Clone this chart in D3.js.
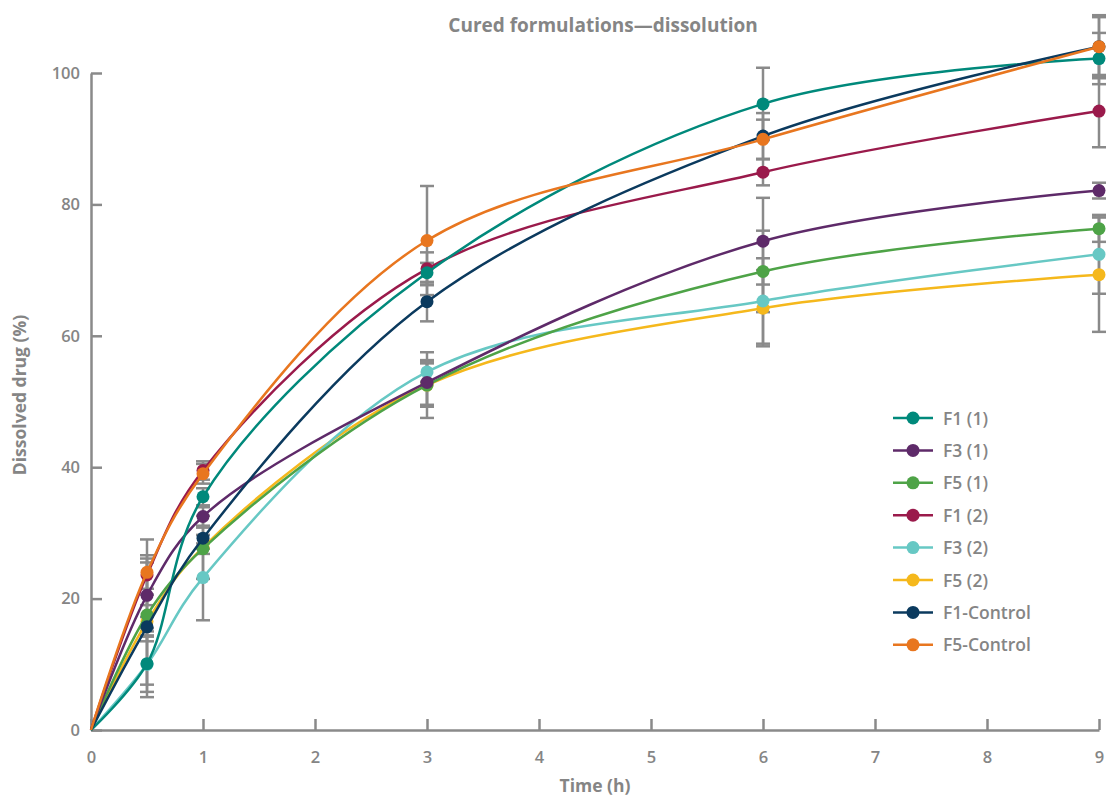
<!DOCTYPE html>
<html>
<head>
<meta charset="utf-8">
<script src="https://cdn.jsdelivr.net/npm/d3@7"></script>
<style>
  body { margin: 0; background: #fff; }
  text { font-family: "Open Sans", sans-serif; fill: #858585; }
</style>
</head>
<body>
<svg id="chart" width="1106" height="799"></svg>
<script>
// time points (h)
const times = [0, 0.5, 1, 3, 6, 9];

const seriesNames = ['F1 (1)', 'F3 (1)', 'F5 (1)', 'F1 (2)', 'F3 (2)', 'F5 (2)', 'F1-Control', 'F5-Control'];
const seriesColors = ['#00897b', '#5e2a69', '#4ea347', '#9a1a4b', '#67c8c4', '#f5b81c', '#0b3a5e', '#e8761f'];

// dissolved drug (%) per series
const f1_1 = [0, 10.1, 35.5, 69.6, 95.3, 102.2];
const f3_1 = [0, 20.5, 32.5, 52.9, 74.4, 82.1];
const f5_1 = [0, 17.5, 27.6, 52.5, 69.8, 76.3];
const f1_2 = [0, 23.6, 39.5, 70.2, 84.9, 94.2];
const f3_2 = [0, 10.0, 23.2, 54.5, 65.3, 72.4];
const f5_2 = [0, 16.5, 27.8, 52.5, 64.2, 69.3];
const f1_c = [0, 15.7, 29.2, 65.2, 90.4, 104.0];
const f5_c = [0, 24.0, 39.0, 74.5, 89.9, 104.0];

// standard deviations (error bars)
const f1_1_sd = [0, 4.3, 1.3, 1.5, 5.5, 3.9];
const f3_1_sd = [0, 5.0, 1.4, 3.4, 6.6, 1.2];
const f5_1_sd = [0, 4.0, 0.8, 3.3, 6.2, 2.0];
const f1_2_sd = [0, 3.0, 1.4, 2.5, 2.0, 5.5];
const f3_2_sd = [0, 5.0, 6.5, 1.5, 6.5, 6.0];
const f5_2_sd = [0, 9.6, 4.8, 5.0, 5.8, 8.7];
const f1_c_sd = [0, 1.5, 1.6, 3.0, 3.5, 4.8];
const f5_c_sd = [0, 5.0, 1.5, 8.3, 3.0, 4.5];

const seriesValues = [f1_1, f3_1, f5_1, f1_2, f3_2, f5_2, f1_c, f5_c];
const seriesSd = [f1_1_sd, f3_1_sd, f5_1_sd, f1_2_sd, f3_2_sd, f5_2_sd, f1_c_sd, f5_c_sd];
// order the series are painted in (later ones on top)
const drawOrder = [5, 4, 3, 2, 1, 0, 6, 7];

const xTicks = [0, 1, 2, 3, 4, 5, 6, 7, 8, 9];
const yTicks = [0, 20, 40, 60, 80, 100];

const svg = d3.select('#chart');
const grey = '#8a8a8a';

const x = d3.scaleLinear().domain([0, 9]).range([91, 1099]);
const y = d3.scaleLinear().domain([0, 100]).range([730, 73]);

// title
svg.append('text')
  .attr('x', 603).attr('y', 32)
  .attr('text-anchor', 'middle')
  .style('font-size', '19px').style('font-weight', 'bold')
  .text('Cured formulations\u2014dissolution');

// axes
const xAxis = svg.append('g')
  .attr('transform', `translate(0,${y(0)})`)
  .call(d3.axisBottom(x).tickValues(xTicks).tickSize(-11).tickPadding(21).tickSizeOuter(0));
const yAxis = svg.append('g')
  .attr('transform', `translate(${x(0)},0)`)
  .call(d3.axisLeft(y).tickValues(yTicks).tickSize(-11).tickPadding(11).tickSizeOuter(0));

[xAxis, yAxis].forEach((g) => {
  g.select('.domain').attr('stroke', grey).attr('stroke-width', 2.5);
  g.selectAll('.tick line').attr('stroke', grey).attr('stroke-width', 2.5);
  g.selectAll('.tick text')
    .style('font-family', '"Open Sans", sans-serif')
    .style('font-size', '16.5px').style('font-weight', 600)
    .attr('fill', '#858585');
});

svg.append('text')
  .attr('transform', 'translate(26,395) rotate(-90)')
  .attr('text-anchor', 'middle')
  .style('font-size', '17.5px').style('font-weight', 'bold')
  .text('Dissolved drug (%)');
svg.append('text')
  .attr('x', 595).attr('y', 792)
  .attr('text-anchor', 'middle')
  .style('font-size', '17.5px').style('font-weight', 'bold')
  .text('Time (h)');

// error bars
const errG = svg.append('g');
seriesValues.forEach((vals, s) => {
  vals.forEach((v, i) => {
    const sd = seriesSd[s][i];
    if (!sd) return;
    const cx = x(times[i]);
    const y1 = y(v + sd);
    const y2 = y(v - sd);
    errG.append('line').attr('x1', cx).attr('x2', cx).attr('y1', y1).attr('y2', y2)
      .attr('stroke', grey).attr('stroke-width', 2.5);
    [y1, y2].forEach((yy) => {
      errG.append('line').attr('x1', cx - 7).attr('x2', cx + 7).attr('y1', yy).attr('y2', yy)
        .attr('stroke', grey).attr('stroke-width', 2.5);
    });
  });
});

// lines and points
const line = d3.line()
  .x((d, i) => x(times[i]))
  .y(d => y(d))
  .curve(d3.curveCatmullRom.alpha(0.5));

drawOrder.forEach((s) => {
  const vals = seriesValues[s];
  const g = svg.append('g');
  g.append('path')
    .attr('d', line(vals))
    .attr('fill', 'none')
    .attr('stroke', seriesColors[s])
    .attr('stroke-width', 2.5);
  g.selectAll('circle')
    .data(vals.slice(1))
    .enter()
    .append('circle')
    .attr('cx', (d, i) => x(times[i + 1]))
    .attr('cy', d => y(d))
    .attr('r', 6.5)
    .attr('fill', seriesColors[s]);
});

// legend
const legend = svg.append('g').attr('transform', 'translate(893,418)');
seriesNames.forEach((name, i) => {
  const row = legend.append('g').attr('transform', `translate(0,${i * 32.4})`);
  row.append('line').attr('x1', 0).attr('x2', 40).attr('y1', 0).attr('y2', 0)
    .attr('stroke', seriesColors[i]).attr('stroke-width', 2.5);
  row.append('circle').attr('cx', 20).attr('cy', 0).attr('r', 6.5).attr('fill', seriesColors[i]);
  row.append('text').attr('x', 50).attr('y', 6.5)
    .style('font-size', '17.5px').style('font-weight', 600)
    .text(name);
});
</script>
</body>
</html>
